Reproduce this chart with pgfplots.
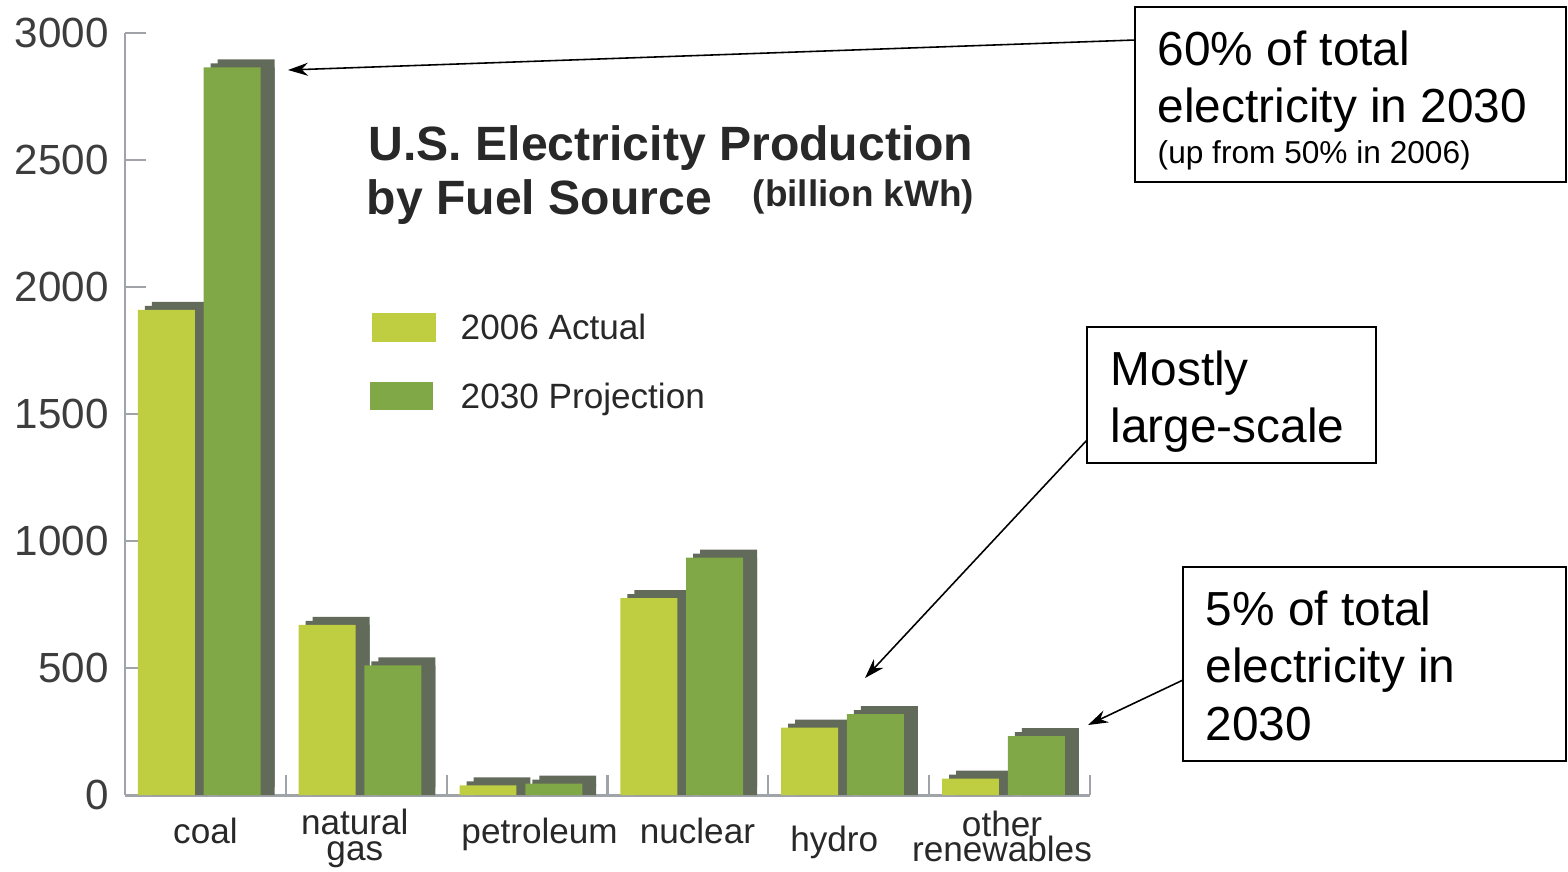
\documentclass[border=0pt]{standalone}
\usepackage{fontspec}
\setmainfont{Liberation Sans}
\usepackage{pgfplots}
\usepackage{pgfplotstable}
\pgfplotsset{compat=1.18}
\usetikzlibrary{arrows.meta}
\definecolor{c06}{RGB}{190,206,64}
\definecolor{c30}{RGB}{128,168,70}
\definecolor{cside}{RGB}{98,106,90}
\definecolor{axgray}{RGB}{160,164,168}
\definecolor{txt}{RGB}{40,40,40}

\pgfplotstableread{
x  a06   p30
0  1910  2865
1  670   510
2  38    45
3  775   935
4  265   318
5  65    232
}\elec

\newcommand{\twoline}[2]{\vbox{\baselineskip=7.3pt\lineskiplimit=-20pt\lineskip=0pt\tabskip=0pt\halign{\hfil##\hfil\cr#1\cr#2\cr}}}

\begin{document}
\begin{tikzpicture}
\path[use as bounding box] (0,0) rectangle (156.8mm,-87.1mm);
\begin{axis}[
  at={(12.5mm,-79.5mm)}, anchor=south west, scale only axis,
  width=96.5mm, height=76.2mm,
  xmin=-0.5, xmax=5.5, ymin=0, ymax=3000,
  axis lines*=left,
  axis line style={axgray, line width=0.85pt},
  xtick={0,0.929,2.078,3.059,3.91,4.953},
  xticklabels={\raisebox{4.8pt}{coal},\twoline{natural}{gas},\raisebox{4.8pt}{petroleum},\raisebox{4.8pt}{nuclear},\raisebox{2.3pt}{hydro},\raisebox{-0.5pt}{\twoline{other}{renewables}}},
  xticklabel style={anchor=base, inner sep=0pt, font=\fontsize{10}{8}\selectfont, text=txt, yshift=-6.5mm},
  minor xtick={0.5,1.5,...,5.5},
  major x tick style={draw=none},
  minor x tick style={axgray, line width=0.6pt},
  minor tick length=2mm,
  ytick={0,500,...,3000},
  ytick style={axgray, line width=0.6pt},
  major tick length=2.1mm,
  tick align=inside,
  yticklabel style={font=\fontsize{12}{14}\selectfont, text=txt!90, xshift=-0.4mm},
  /pgf/number format/1000 sep={},
  /pgf/number format/assume math mode=true,
  clip=false,
]
% 2006 actual (side faces, then front)
\addplot[ybar, bar width=0.354, bar shift=-0.156, fill=cside, draw=none, yshift=0.8mm] table[x=x,y=a06] {\elec};
\addplot[ybar, bar width=0.354, bar shift=-0.1995, fill=cside, draw=none, yshift=0.4mm] table[x=x,y=a06] {\elec};
\addplot[ybar, bar width=0.354, bar shift=-0.156, fill=cside, draw=none] table[x=x,y=a06] {\elec};
\addplot[ybar, bar width=0.354, bar shift=-0.243, fill=c06, draw=none] table[x=x,y=a06] {\elec};
% 2030 projection
\addplot[ybar, bar width=0.354, bar shift=0.253, fill=cside, draw=none, yshift=0.8mm] table[x=x,y=p30] {\elec};
\addplot[ybar, bar width=0.354, bar shift=0.2095, fill=cside, draw=none, yshift=0.4mm] table[x=x,y=p30] {\elec};
\addplot[ybar, bar width=0.354, bar shift=0.253, fill=cside, draw=none] table[x=x,y=p30] {\elec};
\addplot[ybar, bar width=0.354, bar shift=0.166, fill=c30, draw=none] table[x=x,y=p30] {\elec};
\end{axis}

\begin{scope}[x=0.1mm,y=-0.1mm]
% title
\node[anchor=base west, inner sep=0, text=txt, font=\fontsize{13.7}{16}\selectfont\bfseries] at (368,160) {U.S. Electricity Production};
\node[anchor=base west, inner sep=0, text=txt, font=\fontsize{13.7}{16}\selectfont\bfseries] at (366,214) {by Fuel Source};
\node[anchor=base west, inner sep=0, text=txt, font=\fontsize{10.5}{12}\selectfont\bfseries] at (752,206) {(billion kWh)};
% legend
\fill[c06] (372,313) rectangle (436,342);
\fill[c30] (370,382) rectangle (433,410);
\node[anchor=base west, inner sep=0, text=txt, font=\fontsize{10}{12}\selectfont] at (460,339) {2006 Actual};
\node[anchor=base west, inner sep=0, text=txt, font=\fontsize{10}{12}\selectfont] at (460,408) {2030 Projection};
% annotation boxes
\draw[black, line width=0.5pt, fill=white] (1135,7) rectangle (1566,182);
\node[anchor=base west, inner sep=0, font=\fontsize{13.6}{16}\selectfont] at (1157,65) {60\% of total};
\node[anchor=base west, inner sep=0, font=\fontsize{13.6}{16}\selectfont] at (1157,122) {electricity in 2030};
\node[anchor=base west, inner sep=0, font=\fontsize{9}{11}\selectfont] at (1157,163) {(up from 50\% in 2006)};
\draw[black, line width=0.5pt, fill=white] (1087,327) rectangle (1376,463);
\node[anchor=base west, inner sep=0, font=\fontsize{13.6}{16}\selectfont] at (1110,385) {Mostly};
\node[anchor=base west, inner sep=0, font=\fontsize{13.6}{16}\selectfont] at (1110,442) {large-scale};
\draw[black, line width=0.5pt, fill=white] (1183,567) rectangle (1566,761);
\node[anchor=base west, inner sep=0, font=\fontsize{13.6}{16}\selectfont] at (1205,625) {5\% of total};
\node[anchor=base west, inner sep=0, font=\fontsize{13.6}{16}\selectfont] at (1205,682) {electricity in};
\node[anchor=base west, inner sep=0, font=\fontsize{13.6}{16}\selectfont] at (1205,740) {2030};
% arrows
\draw[line width=0.45pt, -{Stealth[length=2mm,width=1.3mm]}] (1135,40) -- (288,70);
\draw[line width=0.45pt, -{Stealth[length=2mm,width=1.3mm]}] (1087,440) -- (865,678);
\draw[line width=0.45pt, -{Stealth[length=2mm,width=1.3mm]}] (1183,680) -- (1088,725);
\end{scope}
\end{tikzpicture}
\end{document}
